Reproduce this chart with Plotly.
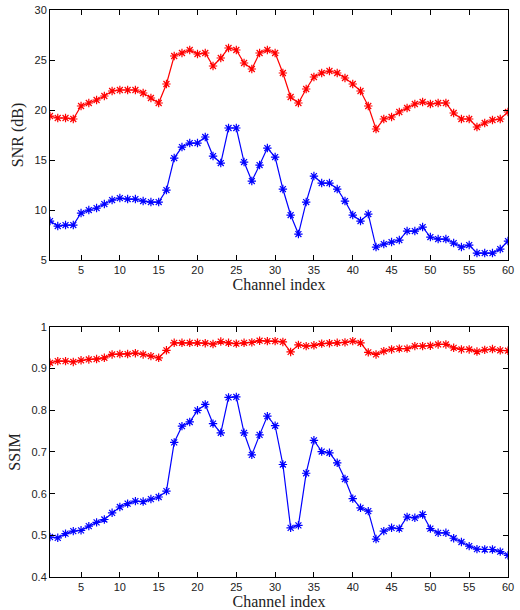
import plotly.graph_objects as go
from plotly.subplots import make_subplots

# channel index 1..60
channels = list(range(1, 61))

# SNR (dB)
snr_red = [19.4, 19.2, 19.2, 19.1, 20.4, 20.7, 21.0, 21.4, 21.9, 22.0,
           22.0, 22.0, 21.7, 21.2, 20.7, 22.6, 25.4, 25.7, 26.0, 25.6,
           25.7, 24.4, 25.2, 26.2, 26.0, 24.7, 24.1, 25.7, 26.0, 25.7,
           23.7, 21.3, 20.7, 22.1, 23.3, 23.7, 23.9, 23.7, 23.2, 22.6,
           21.9, 20.4, 18.1, 19.1, 19.3, 19.8, 20.2, 20.6, 20.8, 20.6,
           20.7, 20.7, 19.7, 19.1, 19.1, 18.3, 18.7, 19.0, 19.1, 19.8]
snr_blue = [8.9, 8.4, 8.5, 8.5, 9.7, 10.0, 10.2, 10.6, 11.0, 11.2,
            11.1, 11.1, 10.9, 10.8, 10.8, 12.0, 15.2, 16.3, 16.7, 16.7,
            17.3, 15.4, 14.7, 18.2, 18.2, 14.8, 12.9, 14.5, 16.2, 15.3,
            12.1, 9.5, 7.6, 10.8, 13.4, 12.7, 12.7, 12.1, 10.9, 9.5,
            8.9, 9.6, 6.3, 6.6, 6.8, 7.0, 7.9, 7.9, 8.3, 7.3,
            7.1, 7.1, 6.7, 6.3, 6.5, 5.7, 5.7, 5.7, 6.1, 6.9]

# SSIM
ssim_red = [0.914, 0.918, 0.918, 0.916, 0.920, 0.922, 0.923, 0.926, 0.934, 0.935,
            0.935, 0.937, 0.934, 0.930, 0.926, 0.944, 0.962, 0.962, 0.962, 0.962,
            0.961, 0.959, 0.965, 0.962, 0.960, 0.962, 0.963, 0.967, 0.966, 0.966,
            0.964, 0.940, 0.957, 0.954, 0.956, 0.960, 0.961, 0.962, 0.963, 0.966,
            0.962, 0.939, 0.934, 0.942, 0.946, 0.948, 0.948, 0.954, 0.954, 0.955,
            0.958, 0.958, 0.950, 0.946, 0.946, 0.941, 0.945, 0.947, 0.944, 0.943]
ssim_blue = [0.496, 0.494, 0.504, 0.510, 0.512, 0.522, 0.531, 0.538, 0.554, 0.568,
             0.576, 0.582, 0.581, 0.587, 0.592, 0.606, 0.723, 0.762, 0.772, 0.800,
             0.814, 0.768, 0.746, 0.831, 0.832, 0.746, 0.693, 0.741, 0.786, 0.763,
             0.670, 0.518, 0.524, 0.649, 0.728, 0.701, 0.698, 0.674, 0.635, 0.588,
             0.566, 0.558, 0.491, 0.510, 0.518, 0.516, 0.544, 0.542, 0.550, 0.516,
             0.506, 0.506, 0.493, 0.484, 0.474, 0.467, 0.466, 0.466, 0.461, 0.452]

fig = make_subplots(rows=2, cols=1, vertical_spacing=0.118)


def add_line(y, color, row):
    fig.add_trace(go.Scatter(
        x=channels, y=y, mode="lines+markers",
        line=dict(color=color, width=1.2),
        marker=dict(symbol="asterisk-open", size=7, color=color,
                    line=dict(color=color, width=1.2)),
        showlegend=False), row=row, col=1)


add_line(snr_red, "#ff0000", 1)
add_line(snr_blue, "#0000ff", 1)
add_line(ssim_red, "#ff0000", 2)
add_line(ssim_blue, "#0000ff", 2)

axis_style = dict(showline=True, linecolor="black", linewidth=1, mirror="ticks",
                  ticks="inside", ticklen=5, tickcolor="black", showgrid=False,
                  zeroline=False, automargin=False,
                  tickfont=dict(family="Liberation Sans", size=11, color="#222"))
title_font = dict(family="Liberation Serif, Times New Roman, serif", size=16, color="#222")

for r in (1, 2):
    fig.update_xaxes(range=[1, 60], tickvals=list(range(5, 61, 5)),
                     title=dict(text="Channel index", font=title_font, standoff=2),
                     row=r, col=1, **axis_style)

fig.update_yaxes(range=[5, 30], dtick=5, title=dict(text="SNR (dB)", font=title_font, standoff=6),
                 row=1, col=1, **axis_style)
fig.update_yaxes(range=[0.4, 1], dtick=0.1, title=dict(text="SSIM", font=title_font, standoff=6),
                 row=2, col=1, **axis_style)

fig.update_layout(width=520, height=610, margin=dict(l=50, r=12, t=10, b=33),
                  plot_bgcolor="white", paper_bgcolor="white")

# drop the default page margin so the figure sits at the window's top-left
fig.write_html("out.html", config={"displayModeBar": False},
               post_script="document.body.style.margin='0px';")
